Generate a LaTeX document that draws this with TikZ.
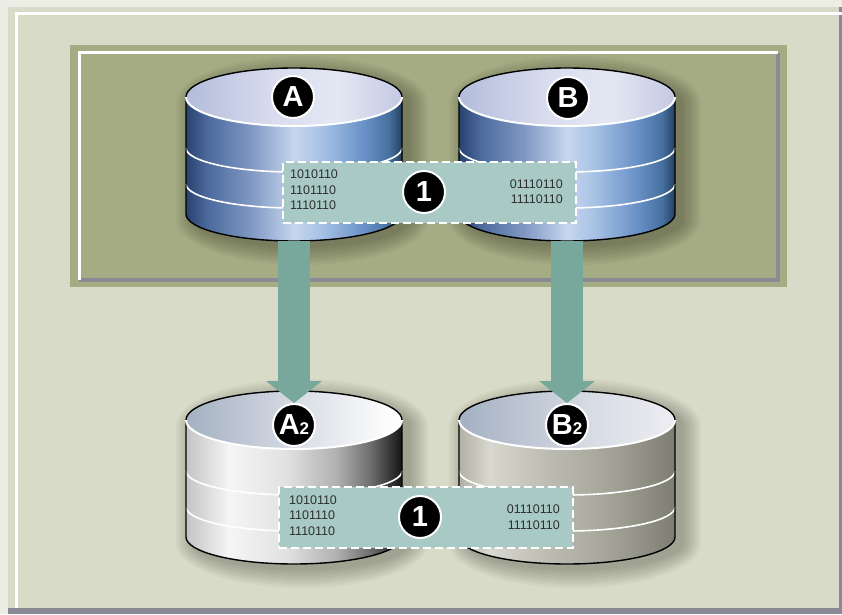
\documentclass[tikz,border=0pt]{standalone}
\usepackage{fontspec}
\setsansfont{Liberation Sans}
\usepackage{xcolor}
\usepackage{tikz}
\usetikzlibrary{arrows.meta, positioning}
\definecolor{mypage}{RGB}{236,237,228}
\definecolor{mypanel}{RGB}{216,219,199}
\definecolor{myolive}{RGB}{165,171,130}
\definecolor{mybevel}{RGB}{138,138,150}
\definecolor{myteal}{RGB}{120,167,156}
\definecolor{myboxteal}{RGB}{169,201,197}
\definecolor{mybits}{RGB}{45,48,48}
% wall and lid colours
\definecolor{bw1}{RGB}{40,66,110}
\definecolor{bw2}{RGB}{76,106,157}
\definecolor{bw3}{RGB}{127,152,195}
\definecolor{bw4}{RGB}{198,214,238}
\definecolor{bw5}{RGB}{169,195,230}
\definecolor{bw6}{RGB}{106,146,200}
\definecolor{bw7}{RGB}{70,112,159}
\definecolor{bw8}{RGB}{35,64,95}
\definecolor{bl1}{RGB}{179,188,218}
\definecolor{bl2}{RGB}{216,220,238}
\definecolor{bl3}{RGB}{228,231,243}
\definecolor{bl4}{RGB}{195,201,226}
\definecolor{ww1}{RGB}{196,196,196}
\definecolor{ww2}{RGB}{245,245,245}
\definecolor{ww3}{RGB}{226,226,226}
\definecolor{ww4}{RGB}{176,176,176}
\definecolor{ww5}{RGB}{106,106,106}
\definecolor{ww6}{RGB}{21,21,21}
\definecolor{gw1}{RGB}{176,176,164}
\definecolor{gw2}{RGB}{216,216,208}
\definecolor{gw3}{RGB}{189,189,179}
\definecolor{gw4}{RGB}{163,163,152}
\definecolor{gw5}{RGB}{125,125,114}
\definecolor{gl1}{RGB}{164,176,194}
\definecolor{gl2}{RGB}{214,219,228}
\definecolor{gl3}{RGB}{250,250,250}
\definecolor{gl4}{RGB}{238,238,242}
\pgfdeclarehorizontalshading{bluewall}{100bp}{color(0bp)=(bw1); color(25bp)=(bw1);
  color(30bp)=(bw2); color(40bp)=(bw3); color(50bp)=(bw4); color(56bp)=(bw5);
  color(66bp)=(bw6); color(72bp)=(bw7); color(75bp)=(bw8); color(100bp)=(bw8)}
\pgfdeclarehorizontalshading{bluelid}{100bp}{color(0bp)=(bl1); color(25bp)=(bl1);
  color(45bp)=(bl2); color(60bp)=(bl3); color(75bp)=(bl4); color(100bp)=(bl4)}
\pgfdeclarehorizontalshading{whitewall}{100bp}{color(0bp)=(ww1); color(25bp)=(ww1);
  color(35bp)=(ww2); color(48bp)=(ww3); color(60bp)=(ww4); color(68bp)=(ww5);
  color(75bp)=(ww6); color(100bp)=(ww6)}
\pgfdeclarehorizontalshading{greywall}{100bp}{color(0bp)=(gw1); color(25bp)=(gw1);
  color(32bp)=(gw2); color(45bp)=(gw3); color(60bp)=(gw4); color(75bp)=(gw5);
  color(100bp)=(gw5)}
\pgfdeclarehorizontalshading{greylid}{100bp}{color(0bp)=(gl1); color(25bp)=(gl1);
  color(50bp)=(gl2); color(70bp)=(gl3); color(75bp)=(white); color(100bp)=(white)}
\pgfdeclarehorizontalshading{greylidb}{100bp}{color(0bp)=(gl1); color(25bp)=(gl1);
  color(55bp)=(gl2); color(75bp)=(gl4); color(100bp)=(gl4)}
\tikzset{
  rimline/.style={draw=black, line width=1.4pt},
  bandline/.style={draw=white, line width=1.6pt},
  lidline/.style={draw=white, line width=2pt},
  databox/.style={rectangle, fill=myboxteal, draw=white, line width=1.5pt,
    dash pattern=on 8pt off 4pt},
  bits/.style={font=\sffamily\fontsize{12.5}{15.5}\selectfont, text=mybits,
    inner sep=0pt},
  badge/.style={circle, fill=black, draw=white, line width=2pt,
    minimum size=42pt, inner sep=0pt, text=white,
    font=\sffamily\bfseries\fontsize{29}{29}\selectfont},
  flowarrow/.style={draw=myteal, line width=32pt,
    -{Triangle[width=56pt, length=22pt, line width=0pt]}}
}
% disk stack: #1 name, #2 centre x, #3 lid centre y, #4 wall, #5 lid
\newcommand{\dbstack}[5]{%
  \foreach \halo in {0,2,...,18}
    \fill[black, opacity=0.028]
      (#2-108-\halo+8,#3-6) -- (#2-108-\halo+8,#3-123)
      arc[start angle=180, end angle=360, x radius=108+\halo, y radius=27+\halo]
      -- (#2+108+\halo+8,#3-6)
      arc[start angle=0, end angle=180, x radius=108+\halo, y radius=29+\halo] -- cycle;
  \shade[shading=#4] (#2-108,#3) -- (#2-108,#3-117)
    arc[start angle=180, end angle=360, x radius=108, y radius=27]
    -- (#2+108,#3) -- cycle;
  \foreach \band in {51,87}
    \draw[bandline] (#2-108,#3-\band)
      arc[start angle=180, end angle=360, x radius=108, y radius=24];
  \shade[shading=#5] (#2,#3) ellipse[x radius=108, y radius=29];
  \draw[rimline] (#2-108,#3) -- (#2-108,#3-117)
    arc[start angle=180, end angle=360, x radius=108, y radius=27]
    -- (#2+108,#3) arc[start angle=0, end angle=180, x radius=108, y radius=29];
  \draw[lidline] (#2-108,#3)
    arc[start angle=180, end angle=360, x radius=108, y radius=29];
  \coordinate (#1) at (#2,#3);
  \coordinate (#1-base) at (#2,#3-144);
}

\begin{document}
\begin{tikzpicture}[x=1pt, y=1pt]
  \useasboundingbox (0,0) rectangle (842,614);
  % outer panel
  \fill[mypage] (0,0) rectangle (842,614);
  \fill[mypanel] (8,0) rectangle (842,607);
  \fill[mybevel] (8,0) rectangle (842,6);
  \fill[mybevel] (839,0) rectangle (842,607);
  \draw[white, line width=3pt] (16,6) -- (16,600) -- (842,600);
  % olive frame behind the primary pair
  \fill[myolive] (70,327) rectangle (787,569);
  \draw[mybevel, line width=4pt] (79,334) -- (778,334) -- (778,561);
  \draw[white, line width=3pt] (79,334) -- (79,561) -- (778,561);
  % primary pair
  \dbstack{dbA}{294}{517}{bluewall}{bluelid}
  \dbstack{dbB}{567}{517}{bluewall}{bluelid}
  % secondary pair
  \dbstack{dbA2}{294}{194}{whitewall}{greylid}
  \dbstack{dbB2}{567}{194}{greywall}{greylidb}
  % data blocks
  \node[databox, minimum width=293pt, minimum height=61pt] (blockTop) at (429.5,421.5) {};
  \node[bits, anchor=west, align=left] (bitsA) at (290,424) {1010110\\1101110\\1110110};
  \node[bits, anchor=east, align=right] (bitsB) at (563,422.5) {01110110\\11110110};
  \node[badge] (stepTop) at (424,422) {1};
  \node[databox, minimum width=294pt, minimum height=61pt] (blockLow) at (426,96.5) {};
  \node[bits, anchor=west, align=left] (bitsA2) at (289,98.5) {1010110\\1101110\\1110110};
  \node[bits, anchor=east, align=right] (bitsB2) at (560,97) {01110110\\11110110};
  \node[badge] (stepLow) at (420,97) {1};
  % volume badges
  \node[badge] (badgeA) at (293,517) {A};
  \node[badge] (badgeB) at (568,516) {B};
  \node[badge] (badgeA2) at (294,189) {A{\fontsize{17}{17}\selectfont 2}};
  \node[badge] (badgeB2) at (567,189) {B{\fontsize{17}{17}\selectfont 2}};
  % copy arrows
  \draw[flowarrow] (dbA-base) -- (badgeA2.north);
  \draw[flowarrow] (dbB-base) -- (badgeB2.north);
\end{tikzpicture}
\end{document}
